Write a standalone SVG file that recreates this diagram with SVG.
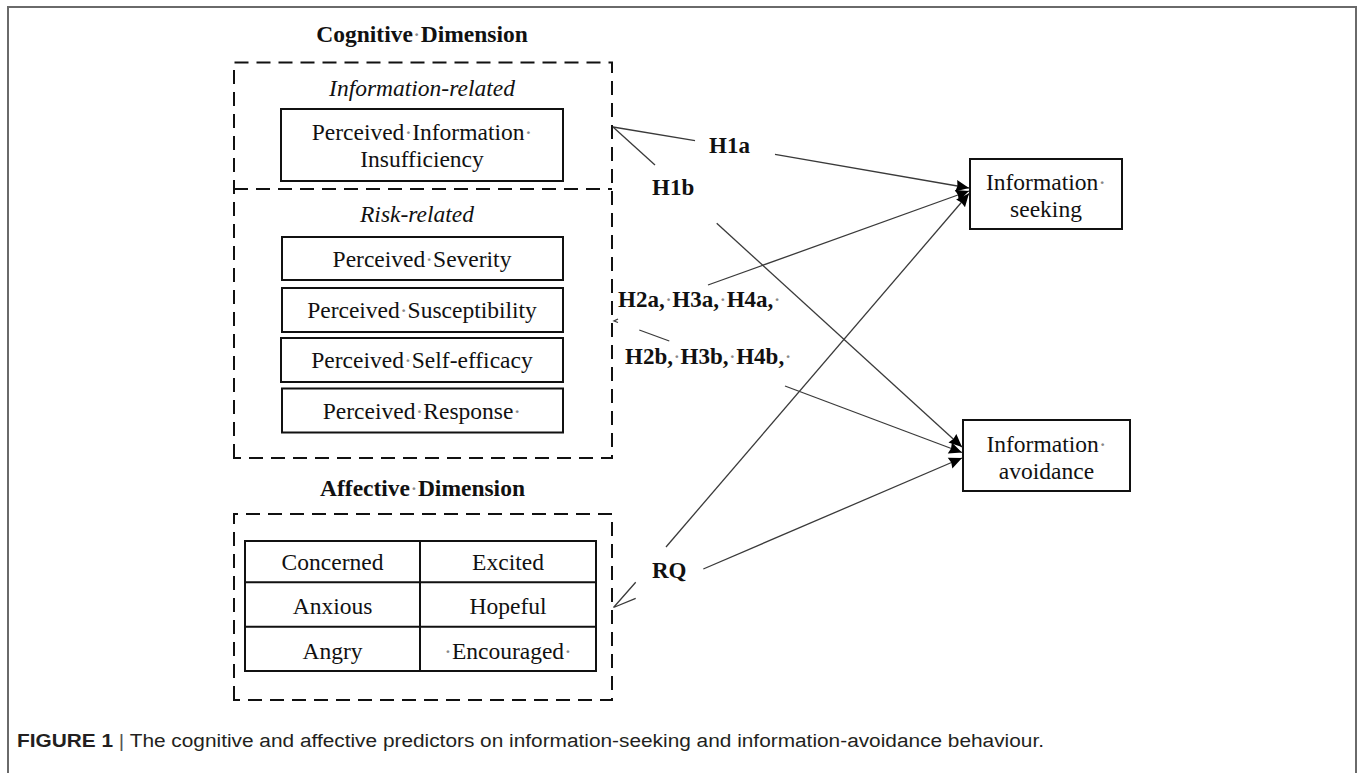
<svg xmlns="http://www.w3.org/2000/svg" width="1357" height="773" viewBox="0 0 1357 773">
<style>
.t{font-family:"Liberation Serif","Times New Roman",serif;font-size:23.5px;fill:#111;text-anchor:middle}
.b{font-weight:bold}
.i{font-style:italic}
.lab{font-family:"Liberation Serif","Times New Roman",serif;font-size:23px;font-weight:bold;fill:#111}
.dot{fill:#888;font-weight:normal}
.box{fill:#fff;stroke:#111;stroke-width:2}
.dash{fill:none;stroke:#111;stroke-width:2;stroke-dasharray:14 8}
.con{fill:none;stroke:#3a3a3a;stroke-width:1.3}
.cap{font-family:"Liberation Sans",Arial,sans-serif;font-size:18px;fill:#231f20}
</style>
<defs>
<marker id="ah" viewBox="0 0 10 10" refX="10" refY="5" markerWidth="14" markerHeight="13" markerUnits="userSpaceOnUse" orient="auto">
<path d="M0,0.5 L10,5 L0,9.5 L1,5 z" fill="#000"/>
</marker>
</defs>
<rect width="1357" height="773" fill="#fff"/>
<path d="M8,780 L8,7 L1356,7 L1356,780" fill="none" stroke="#6a6a6a" stroke-width="2"/>

<g id="cognitive-dimension">
<text class="t b" x="422" y="42">Cognitive<tspan class="dot">·</tspan>Dimension</text>
<path class="dash" d="M234,458 L234,62.5 L612,62.5 L612,458 Z"/>
<path class="dash" d="M234,189 L612,189"/>
<text class="t i" x="422" y="96">Information-related</text>
<text class="t i" x="417" y="222">Risk-related</text>
</g>

<g id="node-pii">
<rect class="box" x="281" y="109" width="282" height="72"/>
<text class="t" x="422" y="140">Perceived<tspan class="dot">·</tspan>Information<tspan class="dot">·</tspan></text>
<text class="t" x="422" y="167">Insufficiency</text>
</g>
<g id="node-severity">
<rect class="box" x="282" y="237" width="281" height="43"/>
<text class="t" x="422" y="267">Perceived<tspan class="dot">·</tspan>Severity</text>
</g>
<g id="node-susceptibility">
<rect class="box" x="282" y="288" width="281" height="44"/>
<text class="t" x="422" y="317.5">Perceived<tspan class="dot">·</tspan>Susceptibility</text>
</g>
<g id="node-self-efficacy">
<rect class="box" x="281" y="338" width="282" height="44"/>
<text class="t" x="422" y="368">Perceived<tspan class="dot">·</tspan>Self-efficacy</text>
</g>
<g id="node-response">
<rect class="box" x="282" y="388.5" width="281" height="44"/>
<text class="t" x="422" y="418.5">Perceived<tspan class="dot">·</tspan>Response<tspan class="dot">·</tspan></text>
</g>

<g id="affective-dimension">
<text class="t b" x="422.5" y="496">Affective<tspan class="dot">·</tspan>Dimension</text>
<path class="dash" d="M234,700 L234,514 L612,514 L612,700 Z"/>
<rect class="box" x="245" y="541" width="351" height="130"/>
<path d="M245,582.3 L596,582.3 M245,626.7 L597,626.7 M420,541 L420,671" stroke="#111" stroke-width="2" fill="none"/>
<text class="t" x="332.5" y="570">Concerned</text>
<text class="t" x="508" y="570">Excited</text>
<text class="t" x="332.5" y="613.5">Anxious</text>
<text class="t" x="508" y="613.5">Hopeful</text>
<text class="t" x="332.5" y="658.5">Angry</text>
<text class="t" x="508" y="658.5"><tspan class="dot">·</tspan>Encouraged<tspan class="dot">·</tspan></text>
</g>

<g id="node-seeking">
<rect class="box" x="970" y="159" width="152" height="70"/>
<text class="t" x="1046" y="190">Information<tspan class="dot">·</tspan></text>
<text class="t" x="1046" y="217">seeking</text>
</g>
<g id="node-avoidance">
<rect class="box" x="963" y="420" width="167" height="71"/>
<text class="t" x="1046.5" y="452">Information<tspan class="dot">·</tspan></text>
<text class="t" x="1046.5" y="478.5">avoidance</text>
</g>

<g id="connectors">
<path class="con" d="M613,127 L695,140.7"/>
<path class="con" d="M613,127 L655,165"/>
<path class="con" d="M775,154.3 L969,188" marker-end="url(#ah)"/>
<path class="con" d="M708,285 L969,191" marker-end="url(#ah)"/>
<path class="con" d="M666,547 L969,193.5" marker-end="url(#ah)"/>
<path class="con" d="M716.7,223.3 L962,447" marker-end="url(#ah)"/>
<path class="con" d="M785,386 L962,452.5" marker-end="url(#ah)"/>
<path class="con" d="M703.3,569 L962,458" marker-end="url(#ah)"/>
<path class="con" d="M639.3,330 L669.3,341"/>
<path class="con" d="M618,319 L614,321 L618,322.5"/>
<path class="con" d="M635.7,582.3 L613.5,607.5 L635.7,598.3"/>
</g>

<g id="labels">
<text class="lab" x="709" y="153">H1a</text>
<text class="lab" x="652" y="195">H1b</text>
<text class="lab" x="618" y="307">H2a,<tspan class="dot">·</tspan>H3a,<tspan class="dot">·</tspan>H4a,<tspan class="dot">·</tspan></text>
<text class="lab" x="625" y="363.5">H2b,<tspan class="dot">·</tspan>H3b,<tspan class="dot">·</tspan>H4b,<tspan class="dot">·</tspan></text>
<text class="lab" x="652" y="578">RQ</text>
</g>

<g id="caption">
<text class="cap" x="17" y="747" textLength="1027" lengthAdjust="spacingAndGlyphs"><tspan font-weight="bold">FIGURE 1</tspan> <tspan fill="#555">|</tspan> The cognitive and affective predictors on information-seeking and information-avoidance behaviour.</text>
</g>
</svg>
